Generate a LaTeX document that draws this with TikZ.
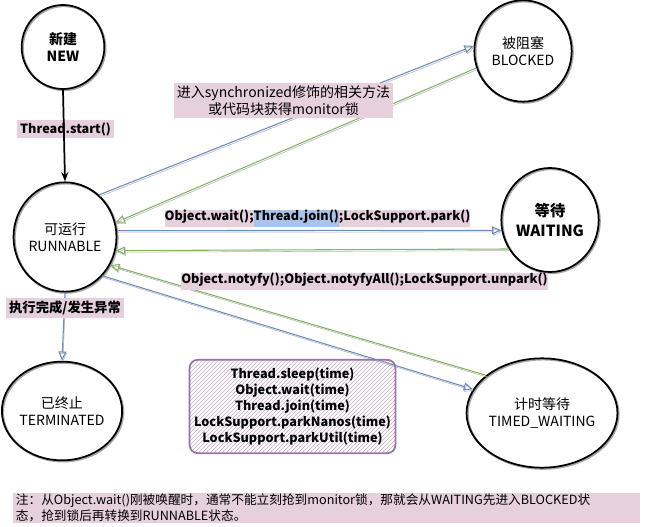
\documentclass[tikz,border=0pt]{standalone}
\usepackage{fontspec}
\setmainfont{Noto Sans CJK SC}
\usetikzlibrary{shapes.geometric,arrows.meta,patterns}
\definecolor{hlpink}{HTML}{E6D0DE}
\definecolor{hlblue}{HTML}{A9C4EB}
\definecolor{arrblue}{HTML}{6C8EBF}
\definecolor{arrgreen}{HTML}{82B366}
\definecolor{boxpurple}{HTML}{9673A6}
\definecolor{hatchpink}{HTML}{C9A9C6}
\setlength{\fboxsep}{0pt}
\newcommand{\lblstrut}{\rule[-4.5pt]{0pt}{12pt}}
\tikzset{
  state/.style={ellipse, draw, line width=1.3pt, align=center, inner sep=0pt,
    font=\fontsize{10.5}{13}\selectfont,
    preaction={draw=black!35, line width=1.6pt, transform canvas={shift={(0.8pt,-0.8pt)}}}},
  lbl/.style={fill=hlpink, inner xsep=2pt, inner ysep=2pt, align=center,
    font=\fontsize{9.5}{13}\selectfont\bfseries},
  togo/.style={->, draw=arrblue, line width=0.8pt,
    preaction={draw=black!30, transform canvas={shift={(0.6pt,-1.2pt)}}}},
  goback/.style={->, draw=arrgreen, line width=0.8pt,
    preaction={draw=black!30, transform canvas={shift={(0.6pt,-1.2pt)}}}}
}
\begin{document}
\begin{tikzpicture}[x=0.75pt, y=-0.75pt, >={Triangle[open, length=7pt, width=6pt]}]
\useasboundingbox (0,0) rectangle (646,527);
% states
\node[state, minimum width=62pt, minimum height=63pt, font=\fontsize{10.5}{13}\selectfont\bfseries] (new) at (63,47) {新建\\NEW};
\node[state, minimum width=73pt, minimum height=76pt] (blk) at (523,51) {被阻塞\\BLOCKED};
\node[state, minimum width=72pt, minimum height=82pt] (run) at (65,237) {可运行\\RUNNABLE};
\node[state, minimum width=73pt, minimum height=78pt, font=\fontsize{11.5}{15}\selectfont\bfseries] (wait) at (550,220) {等待\\WAITING};
\node[state, minimum width=76pt, minimum height=74pt] (term) at (62,411) {已终止\\TERMINATED};
\node[state, minimum width=84pt, minimum height=82pt] (tw) at (542,413) {计时等待\\TIMED\_WAITING};

\node[lbl] (startlbl) at (65.5,129) {Thread.start()};

% transitions
\draw[-{Stealth[length=7pt]}, line width=1.3pt] (new.south) -- (run.north);
\draw[togo] (run.51) -- (blk.174);
\draw[goback] (blk.200) -- (run.16);
\draw[togo] (run.7) -- (wait.192);
\draw[goback] (wait.215) -- (run.-15);
\draw[goback] (tw.146) -- (run.-32);
\draw[togo] (run.-46) -- (tw.161);
\draw[togo] (run.south) -- (term.north);

\node[lbl, font=\fontsize{10.5}{13}\selectfont] (synclbl) at (283.5,100.5) {进入synchronized修饰的相关方法\\或代码块获得monitor锁};
\node[lbl, inner sep=0pt] (waitlbl) at (317.5,218.5)
  {\lblstrut Object.wait();\colorbox{hlblue}{\lblstrut Thread.join()};LockSupport.park()};
\node[lbl, inner sep=0pt] (notifylbl) at (364.5,281.5)
  {\lblstrut Object.notyfy();Object.notyfyAll();LockSupport.unpark()};
\node[lbl, font=\fontsize{10}{13}\selectfont\bfseries] (endlbl) at (65,308) {执行完成/发生异常};
\node[draw=boxpurple, line width=1.3pt, rounded corners=6pt, pattern=north east lines,
  pattern color=hatchpink, minimum width=154pt, minimum height=70pt, align=center,
  font=\fontsize{9.5}{12}\selectfont\bfseries] (timedbox) at (292.5,406.5)
  {Thread.sleep(time)\\Object.wait(time)\\Thread.join(time)\\LockSupport.parkNanos(time)\\LockSupport.parkUtil(time)};
\node[fill=hlpink, anchor=west, inner xsep=2pt, inner ysep=1pt, text width=466pt, align=left,
  font=\fontsize{9.5}{12}\selectfont] (note) at (13,508)
  {注：从Object.wait()刚被唤醒时，通常不能立刻抢到monitor锁，那就会从WAITING先进入BLOCKED状\\态，抢到锁后再转换到RUNNABLE状态。};
\end{tikzpicture}
\end{document}
